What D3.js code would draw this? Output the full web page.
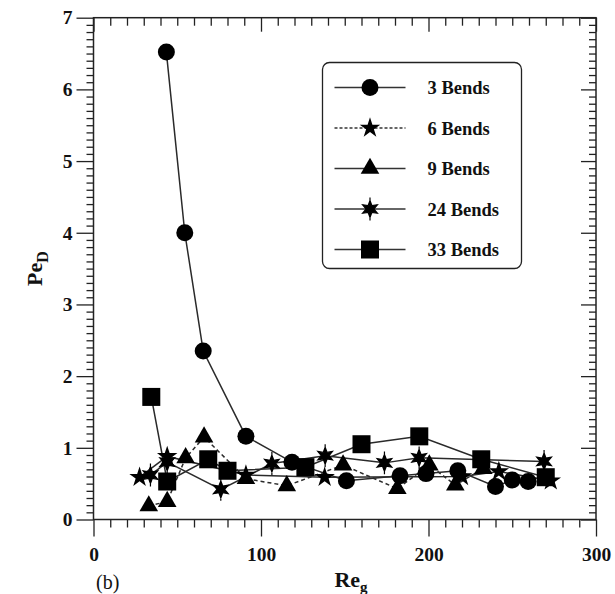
<!DOCTYPE html>
<html>
<head>
<meta charset="utf-8">
<script src="https://cdn.jsdelivr.net/npm/d3@7"></script>
<style>
body { margin: 0; background: #fff; }
text { font-family: "Liberation Serif", "Times New Roman", serif; }
</style>
</head>
<body>
<svg id="chart"></svg>
<script>
const W = 615, H = 594;

// data: [Re_g, Pe_D]
const bends3 = [[43.5, 6.52], [54.5, 4.0], [65.5, 2.35], [91, 1.16], [118.5, 0.80], [151, 0.54], [183, 0.61], [198.5, 0.64], [217.5, 0.68], [240, 0.46], [250, 0.55], [259.5, 0.53]];
const bends6 = [[27.5, 0.59], [44, 0.88], [91, 0.62], [138, 0.59], [220, 0.60], [242, 0.67], [273, 0.54]];
const bends9 = [[33, 0.19], [44, 0.25], [55, 0.86], [66, 1.15], [91, 0.57], [115.4, 0.47], [149, 0.76], [181.4, 0.43], [200.5, 0.76], [216, 0.48], [232.7, 0.71]];
const bends24 = [[34, 0.62], [44, 0.80], [76, 0.42], [106.5, 0.78], [138.3, 0.89], [173.7, 0.79], [194.4, 0.86], [269, 0.81]];
const bends33 = [[34.5, 1.71], [44, 0.53], [68.5, 0.84], [80, 0.68], [126.5, 0.73], [160, 1.05], [194.5, 1.16], [231.5, 0.84], [270, 0.59]];

const seriesNames = ['3 Bends', '6 Bends', '9 Bends', '24 Bends', '33 Bends'];
const xTicks = [0, 100, 200, 300];
const yTicks = [0, 1, 2, 3, 4, 5, 6, 7];

const series = [
	{name: seriesNames[0], data: bends3, shape: 'circle', dash: null, legendDash: null},
	{name: seriesNames[1], data: bends6, shape: 'star', dash: null, legendDash: '3,2'},
	{name: seriesNames[2], data: bends9, shape: 'triangle', dash: '4,3', legendDash: null},
	{name: seriesNames[3], data: bends24, shape: 'burst', dash: null, legendDash: null},
	{name: seriesNames[4], data: bends33, shape: 'square', dash: null, legendDash: null}
];

const svg = d3.select('#chart').attr('width', W).attr('height', H);

const x = d3.scaleLinear().domain([0, 300]).range([93.5, 596]);
const y = d3.scaleLinear().domain([0, 7]).range([519.5, 17.7]);

const minorX = d3.range(0, 301, 10).filter(d => d % 100 !== 0);
const minorY = d3.range(0, 70.5, 1).map(d => d / 10).filter(d => Math.abs(d - Math.round(d)) > 1e-6);

const axisStyle = g => {
	g.select('.domain').remove();
	g.selectAll('line').attr('stroke', '#222').attr('stroke-width', 1.3);
};

const labelStyle = sel => sel.attr('font-size', 19.5).attr('font-weight', 'bold').attr('fill', '#111')
	.attr('font-family', '"Liberation Serif", serif');

// bottom: ticks outward
svg.append('g').attr('transform', `translate(0,${y(0)})`)
	.call(d3.axisBottom(x).tickValues(minorX).tickSize(8).tickFormat(''))
	.call(axisStyle);
svg.append('g').attr('transform', `translate(0,${y(0)})`)
	.call(d3.axisBottom(x).tickValues(xTicks).tickSize(17).tickPadding(11).tickFormat(d3.format('d')))
	.call(axisStyle)
	.selectAll('text').call(labelStyle);

// left: ticks outward
svg.append('g').attr('transform', `translate(${x(0)},0)`)
	.call(d3.axisLeft(y).tickValues(minorY).tickSize(7).tickFormat(''))
	.call(axisStyle);
svg.append('g').attr('transform', `translate(${x(0)},0)`)
	.call(d3.axisLeft(y).tickValues(yTicks).tickSize(17).tickPadding(4).tickFormat(d3.format('d')))
	.call(axisStyle)
	.selectAll('text').call(labelStyle);

// top: ticks inward
svg.append('g').attr('transform', `translate(0,${y(7)})`)
	.call(d3.axisBottom(x).tickValues(minorX).tickSize(8).tickFormat(''))
	.call(axisStyle);
svg.append('g').attr('transform', `translate(0,${y(7)})`)
	.call(d3.axisBottom(x).tickValues(xTicks).tickSize(14).tickFormat(''))
	.call(axisStyle);

// right: ticks inward
svg.append('g').attr('transform', `translate(${x(300)},0)`)
	.call(d3.axisLeft(y).tickValues(minorY).tickSize(7).tickFormat(''))
	.call(axisStyle);
svg.append('g').attr('transform', `translate(${x(300)},0)`)
	.call(d3.axisLeft(y).tickValues(yTicks).tickSize(15).tickFormat(''))
	.call(axisStyle);

// frame
svg.append('rect')
	.attr('x', x(0)).attr('y', y(7))
	.attr('width', x(300) - x(0)).attr('height', y(0) - y(7))
	.attr('fill', 'none').attr('stroke', '#222').attr('stroke-width', 1.5);

// markers
const burstPath = (r) => {
	const pts = [];
	for (let i = 0; i < 12; i++) {
		const a = Math.PI / 6 * i - Math.PI / 2;
		const rr = i % 2 === 0 ? r : r * 0.45;
		pts.push([rr * Math.cos(a), rr * Math.sin(a)]);
	}
	return 'M' + pts.map(p => p[0].toFixed(2) + ',' + p[1].toFixed(2)).join('L') + 'Z' +
		`M0,${-r * 1.35}L0,${r * 1.35}`;
};

const drawMarker = (g, shape) => {
	if (shape === 'circle') {
		g.append('circle').attr('r', 8.5).attr('fill', '#000');
	} else if (shape === 'square') {
		g.append('rect').attr('x', -9).attr('y', -9).attr('width', 18).attr('height', 18).attr('fill', '#000');
	} else if (shape === 'triangle') {
		g.append('path').attr('d', d3.symbol(d3.symbolTriangle, 150)()).attr('fill', '#000');
	} else if (shape === 'star') {
		g.append('path').attr('d', d3.symbol(d3.symbolStar, 130)()).attr('fill', '#000');
	} else if (shape === 'burst') {
		g.append('path').attr('d', burstPath(8.5)).attr('fill', '#000').attr('stroke', '#000').attr('stroke-width', 1.2);
	}
};

const line = d3.line().x(d => x(d[0])).y(d => y(d[1]));

const plot = svg.append('g');
series.forEach(s => {
	plot.append('path')
		.datum(s.data)
		.attr('d', line)
		.attr('fill', 'none')
		.attr('stroke', '#2a2a2a')
		.attr('stroke-width', 1.5)
		.attr('stroke-dasharray', s.dash);
});
series.forEach(s => {
	plot.selectAll(null)
		.data(s.data)
		.enter().append('g')
		.attr('transform', d => `translate(${x(d[0])},${y(d[1])})`)
		.each(function() { drawMarker(d3.select(this), s.shape); });
});

// legend
const legend = svg.append('g').attr('transform', 'translate(322.5,62.5)');
legend.append('rect')
	.attr('width', 199).attr('height', 206).attr('rx', 7).attr('ry', 7)
	.attr('fill', '#fff').attr('stroke', '#222').attr('stroke-width', 1.3);
series.forEach((s, i) => {
	const row = legend.append('g').attr('transform', `translate(0,${25 + i * 40.5})`);
	row.append('line').attr('x1', 12).attr('x2', 83).attr('y1', 0).attr('y2', 0)
		.attr('stroke', '#333').attr('stroke-width', 1.3).attr('stroke-dasharray', s.legendDash);
	const m = row.append('g').attr('transform', 'translate(47.5,0)');
	drawMarker(m, s.shape);
	row.append('text').attr('x', 105).attr('y', 6.5).attr('font-size', 18.5).attr('font-weight', 'bold')
		.attr('fill', '#111').text(s.name);
});

// axis titles
const yt = svg.append('text')
	.attr('transform', `translate(42,${y(3.5)}) rotate(-90)`)
	.attr('text-anchor', 'middle').attr('font-size', 22).attr('font-weight', 'bold').attr('fill', '#111');
yt.append('tspan').text('Pe');
yt.append('tspan').attr('dy', 6).attr('font-size', 16).text('D');

const xt = svg.append('text')
	.attr('x', 351).attr('y', 587)
	.attr('text-anchor', 'middle').attr('font-size', 22).attr('font-weight', 'bold').attr('fill', '#111');
xt.append('tspan').text('Re');
xt.append('tspan').attr('dy', 5).attr('font-size', 15).text('g');

svg.append('text').attr('x', 96).attr('y', 589).attr('font-size', 20).attr('fill', '#111').text('(b)');
</script>
</body>
</html>
